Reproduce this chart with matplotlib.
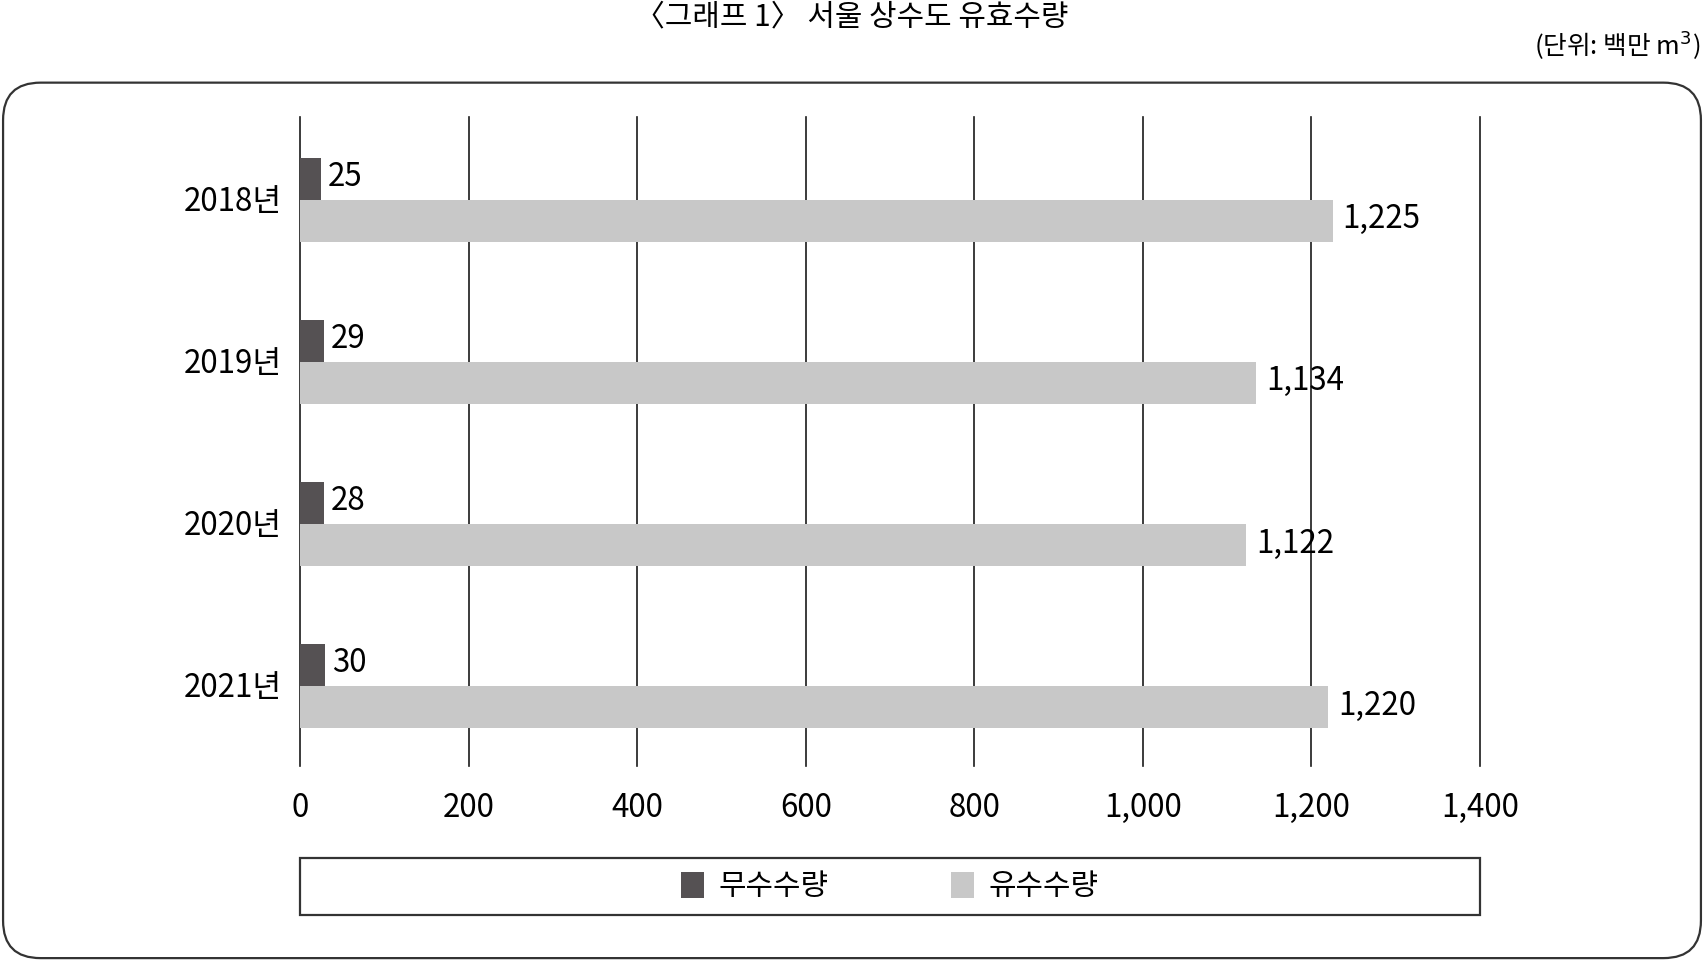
import matplotlib
matplotlib.use("Agg")
import matplotlib.pyplot as plt
from matplotlib.patches import FancyBboxPatch, Rectangle, Patch
import numpy as np

plt.rcParams['font.family'] = ['Noto Sans CJK KR', 'DejaVu Sans']

# data
years = ['2018년', '2019년', '2020년', '2021년']
nonrevenue = [25, 29, 28, 30]      # 무수수량
revenue = [1225, 1134, 1122, 1220]  # 유수수량
x_ticks = [0, 200, 400, 600, 800, 1000, 1200, 1400]

dark = '#555153'
light = '#c8c8c8'

fig = plt.figure(figsize=(17.04, 9.61), dpi=100)

# outer rounded frame
frame = FancyBboxPatch((0.0018, 0.003), 0.9964, 0.911, transform=fig.transFigure,
                       boxstyle='round,pad=0,rounding_size=0.022',
                       mutation_aspect=1704 / 961,
                       facecolor='none', edgecolor='#333333', linewidth=1.6)
fig.patches.append(frame)

ax = fig.add_axes([0.176, 0.2034, 0.6926, 0.6746])
ax.patch.set_alpha(0)
y = np.arange(len(years))
h = 0.26
ax.barh(y - h / 2 + 0.01, nonrevenue, height=h, color=dark, zorder=3, label='무수수량')
ax.barh(y + h / 2 + 0.01, revenue, height=h, color=light, zorder=3, label='유수수량')

for yi, v in zip(y, nonrevenue):
    ax.text(v + 8, yi - h / 2, f'{v:,}', va='center', ha='left', fontsize=22.5)
for yi, v in zip(y, revenue):
    ax.text(v + 12, yi + h / 2, f'{v:,}', va='center', ha='left', fontsize=22.5)

ax.set_xlim(0, 1400)
ax.set_ylim(3.5, -0.5)
ax.set_xticks(x_ticks)
ax.set_xticklabels([f'{t:,}' for t in x_ticks], fontsize=22.5)
ax.set_yticks(y)
ax.set_yticklabels(years, fontsize=22.5)
ax.tick_params(axis='both', length=0)
ax.tick_params(axis='x', pad=19)
ax.tick_params(axis='y', pad=13)
for s in ax.spines.values():
    s.set_visible(False)
ax.grid(axis='x', color='#1a1a1a', linewidth=1.2, zorder=1)
ax.grid(axis='y', visible=False)
for line in ax.get_xgridlines():
    line.set_clip_on(False)
ax.set_axisbelow(True)

# legend box
fig.patches.append(Rectangle((0.176, 0.0475), 0.6926, 0.0598, transform=fig.transFigure,
                             facecolor='none', edgecolor='#333333', linewidth=1.6))
handles = [Patch(facecolor=dark), Patch(facecolor=light)]
fig.legend(handles, ['무수수량', '유수수량'], loc='center', bbox_to_anchor=(0.5223, 0.0774),
           ncol=2, frameon=False, fontsize=21.5, handlelength=0.75, handleheight=0.95,
           handletextpad=0.5, columnspacing=4.1)

fig.text(0.5, 0.982, '〈그래프 1〉 서울 상수도 유효수량', ha='center', va='center', fontsize=21.5)
fig.text(0.998, 0.9525, '(단위: 백만 m$^3$)', ha='right', va='center', fontsize=18.5)

fig.savefig('out.png', dpi=100)
